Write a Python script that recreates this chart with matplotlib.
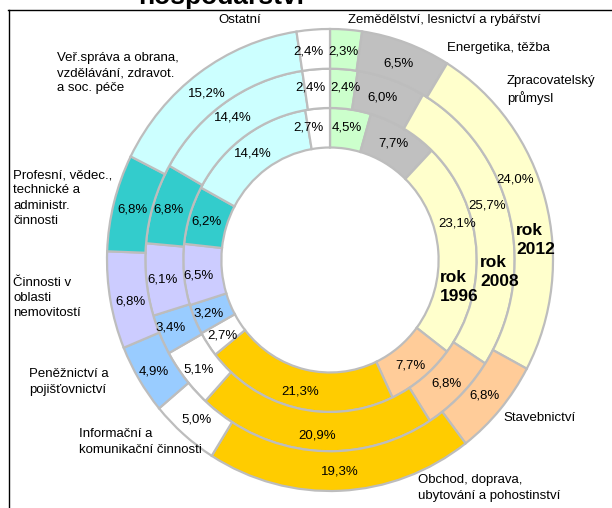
import matplotlib
matplotlib.use("Agg")
import matplotlib.pyplot as plt
from matplotlib.lines import Line2D

plt.rcParams['font.family'] = ['Liberation Sans', 'DejaVu Sans']

# ---------------- data ----------------
categories = [
    "Zemědělství, lesnictví a rybářství",
    "Energetika, těžba",
    "Zpracovatelský\nprůmysl",
    "Stavebnictví",
    "Obchod, doprava,\nubytování a pohostinství",
    "Informační a\nkomunikační činnosti",
    "Peněžnictví a\npojišťovnictví",
    "Činnosti v\noblasti\nnemovitostí",
    "Profesní, vědec.,\ntechnické a\nadministr.\nčinnosti",
    "Veř.správa a obrana,\nvzdělávání, zdravot.\na soc. péče",
    "Ostatní",
]
years = ["1996", "2008", "2012"]
values_1996 = [4.5, 7.7, 23.1, 7.7, 21.3, 2.7, 3.2, 6.5, 6.2, 14.4, 2.7]
values_2008 = [2.4, 6.0, 25.7, 6.8, 20.9, 5.1, 3.4, 6.1, 6.8, 14.4, 2.4]
values_2012 = [2.3, 6.5, 24.0, 6.8, 19.3, 5.0, 4.9, 6.8, 6.8, 15.2, 2.4]
title_text = "hospodářství"

# ---------------- style / layout ----------------
colors = ["#CCFFCC", "#C0C0C0", "#FFFFCC", "#FFCC99", "#FFCC00", "#FFFFFF",
          "#99CCFF", "#CCCCFF", "#33CCCC", "#CCFFFF", "#FFFFFF"]
W, H = 612, 508
CX, CY, RX, RY = 330, 260, 223, 231

def px(x, y):
    return (x - CX) / RX, (CY - y) / RY

# label pixel positions (center) per ring
pos_1996 = [(347, 127), (393, 143), (457, 223), (410, 365), (300, 392), (222, 336),
            (209, 314), (199, 275), (206, 221), (253, 153), (308, 127)]
pos_2008 = [(345, 87), (383, 97), (487, 205), (447, 383), (317, 435), (199, 370),
            (171, 328), (163, 279), (169, 210), (233, 118), (310, 87)]
pos_2012 = [(343, 52), (398, 63), (515, 180), (485, 395), (340, 471), (197, 420),
            (154, 372), (131, 302), (133, 210), (207, 93), (308, 52)]
# category label (left x, vertical center y)
cat_pos = [(348, 20), (447, 48), (507, 90), (503, 418), (418, 488), (79, 442),
           (29, 382), (13, 298), (13, 198), (57, 73), (218, 20)]
year_pos = [(440, 287), (480, 272), (516, 240)]

fig = plt.figure(figsize=(W / 100, H / 100), dpi=100)
ax = fig.add_axes([0, 0, 1, 1])

rings = [(values_1996, 0.658, 0.171), (values_2008, 0.828, 0.170), (values_2012, 1.0, 0.172)]
for vals, r, w in rings:
    ax.pie(vals, radius=r, startangle=90, counterclock=False, colors=colors,
           wedgeprops=dict(width=w, edgecolor="#BDBDBD", linewidth=1.6))

ax.set_aspect('auto')
ax.set_xlim(px(0, 0)[0], px(W, 0)[0])
ax.set_ylim(px(0, H)[1], px(0, 0)[1])
ax.axis('off')

def fmt(v):
    return f"{v:.1f}".replace('.', ',') + "%"

for vals, poss in [(values_1996, pos_1996), (values_2008, pos_2008), (values_2012, pos_2012)]:
    for v, (x, y) in zip(vals, poss):
        ax.text(*px(x, y), fmt(v), ha='center', va='center', fontsize=9.5, color='black')

for c, (x, y) in zip(categories, cat_pos):
    ax.text(*px(x, y), c, ha='left', va='center', fontsize=9.5, linespacing=1.35)

for yr, (x, y) in zip(years, year_pos):
    ax.text(*px(x, y), "rok\n" + yr, ha='left', va='center', fontsize=12.5,
            fontweight='bold', linespacing=1.3)

# frame lines (top and left)
fig.add_artist(Line2D([8 / W, 1], [1 - 9.5 / H, 1 - 9.5 / H], color='black', lw=1.0))
fig.add_artist(Line2D([8.5 / W, 8.5 / W], [0, 1 - 9.5 / H], color='black', lw=1.0))

fig.text(221 / W, 1 - 4 / H, title_text, ha='center', va='baseline', fontsize=19,
         fontweight='bold')

fig.savefig("out.png", dpi=100)
